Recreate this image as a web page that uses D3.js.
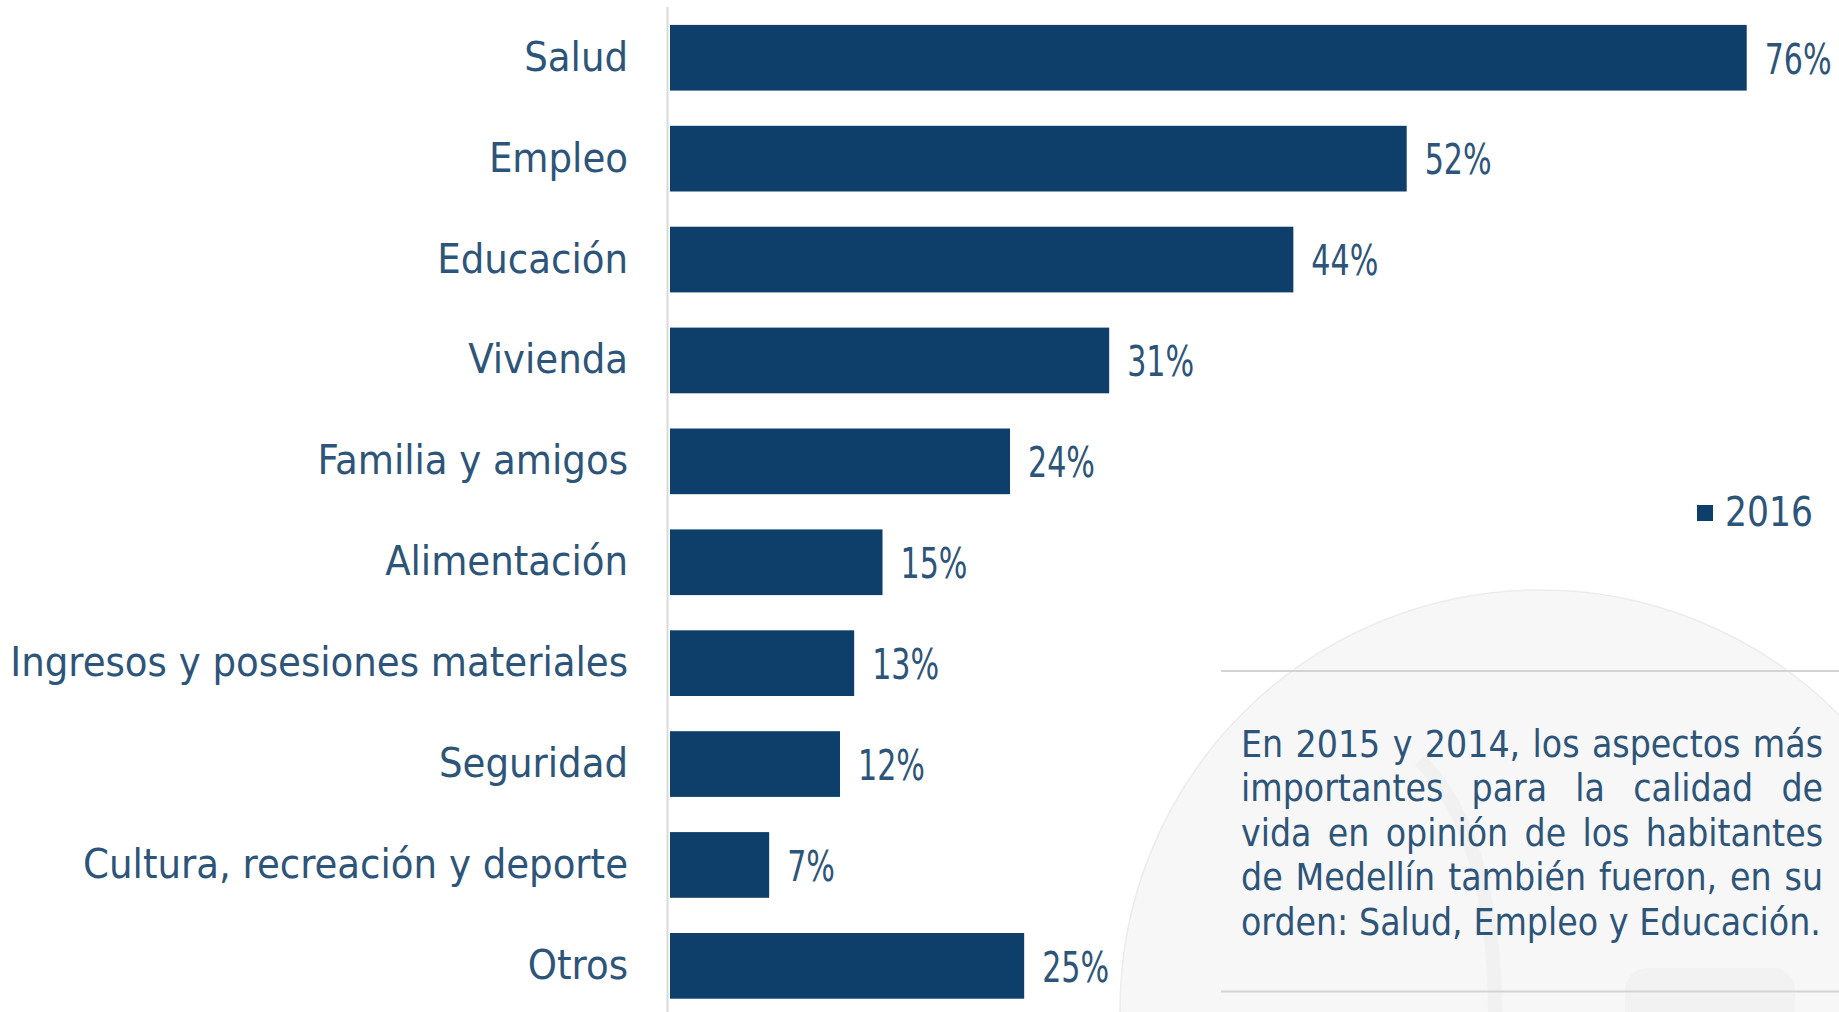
<!DOCTYPE html>
<html>
<head>
<meta charset="utf-8">
<title>Aspectos más importantes para la calidad de vida</title>
<script src="https://d3js.org/d3.v7.min.js"></script>
<style>
  html, body { margin: 0; padding: 0; background: #ffffff; }
  svg { display: block; }
  text { font-family: "DejaVu Sans Condensed", "DejaVu Sans", sans-serif; fill: #2d5479; }
</style>
</head>
<body>
<div id="chart"></div>
<script>
// data
var categories = ["Salud", "Empleo", "Educación", "Vivienda", "Familia y amigos", "Alimentación",
    "Ingresos y posesiones materiales", "Seguridad", "Cultura, recreación y deporte", "Otros"];
var values2016 = [76, 52, 44, 31, 24, 15, 13, 12, 7, 25];
var seriesName = "2016";
var noteLines = [
    "En 2015 y 2014, los aspectos más",
    "importantes para la calidad de",
    "vida en opinión de los habitantes",
    "de Medellín también fueron, en su",
    "orden: Salud, Empleo y Educación."
];

var W = 1839, H = 1012;
var barColor = "#0e3e6a";

var svg = d3.select("#chart").append("svg")
    .attr("width", W)
    .attr("height", H);

// faint watermark circle behind the note
var mark = svg.append("g");
mark.append("circle")
    .attr("cx", 1540).attr("cy", 1010).attr("r", 420)
    .attr("fill", "#f7f7f7")
    .attr("stroke", "#ececec")
    .attr("stroke-width", 1.5);
mark.append("path")
    .attr("d", "M1420,760 C1470,810 1495,900 1495,1012")
    .attr("fill", "none")
    .attr("stroke", "#f1f1f1")
    .attr("stroke-width", 14);
mark.append("rect")
    .attr("x", 1625).attr("y", 968).attr("width", 170).attr("height", 80).attr("rx", 22)
    .attr("fill", "#f2f2f2");

var data = categories.map(function(c, i) { return { cat: c, val: values2016[i] }; });

var x = d3.scaleLinear().domain([0, 76]).range([670, 1746.7]);
var y = d3.scaleBand().domain(categories).range([7.3, 1016.3])
    .paddingInner(0.349).paddingOuter(0.1745);

// vertical axis line
svg.append("line")
    .attr("x1", 667.5).attr("x2", 667.5)
    .attr("y1", 7).attr("y2", H)
    .attr("stroke", "#d9d9d9")
    .attr("stroke-width", 2);

// bars
svg.selectAll(".bar")
    .data(data)
    .enter()
    .append("rect")
    .attr("class", "bar")
    .attr("x", x(0))
    .attr("y", function(d) { return y(d.cat); })
    .attr("width", function(d) { return x(d.val) - x(0); })
    .attr("height", y.bandwidth())
    .attr("fill", barColor);

// category labels, squeezed to the reference width
var catG = svg.append("g");
var cats = catG.selectAll(".cat")
    .data(data)
    .enter()
    .append("text")
    .attr("class", "cat")
    .attr("text-anchor", "end")
    .style("font-size", "41px")
    .text(function(d) { return d.cat; });
var longest = d3.max(cats.nodes(), function(n) { return n.getComputedTextLength(); });
var sxCat = 618 / longest;
cats.attr("transform", function(d) {
    return "translate(628," + (y(d.cat) + y.bandwidth() / 2 + 13) + ") scale(" + sxCat + ",1)";
});

// value labels
var vals = svg.selectAll(".val")
    .data(data)
    .enter()
    .append("text")
    .attr("class", "val")
    .style("font-size", "43px")
    .text(function(d) { return d.val + "%"; });
var w76 = vals.filter(function(d) { return d.val === 76; }).node().getComputedTextLength();
var sxVal = 67 / w76;
vals.attr("transform", function(d) {
    return "translate(" + (x(d.val) + 18) + "," + (y(d.cat) + y.bandwidth() / 2 + 15.8) + ") scale(" + sxVal + ",1)";
});

// legend
var leg = svg.append("g");
leg.append("rect")
    .attr("x", 1697).attr("y", 505)
    .attr("width", 16).attr("height", 16)
    .attr("fill", barColor);
var legText = leg.append("text")
    .style("font-size", "41px")
    .text(seriesName);
var sxLeg = 88 / legText.node().getComputedTextLength();
legText.attr("transform", "translate(1725,526) scale(" + sxLeg + ",1)");

// note box with separator lines
svg.append("line")
    .attr("x1", 1221).attr("x2", W).attr("y1", 671).attr("y2", 671)
    .attr("stroke", "#d3d3d3").attr("stroke-width", 2);
svg.append("line")
    .attr("x1", 1221).attr("x2", W).attr("y1", 991.5).attr("y2", 991.5)
    .attr("stroke", "#d3d3d3").attr("stroke-width", 2);

var noteLeft = 1241, noteRight = 1823, noteTop = 756.5, lineGap = 44.6;
var note = svg.append("g").style("font-size", "37px");
noteLines.forEach(function(line, i) {
    var words = line.split(" ");
    var yy = noteTop + i * lineGap;
    var nodes = words.map(function(w) {
        return note.append("text").attr("y", yy).text(w);
    });
    var widths = nodes.map(function(n) { return n.node().getComputedTextLength(); });
    var space = 37 * 0.29;
    var gap = (i < noteLines.length - 1)
        ? (noteRight - noteLeft - d3.sum(widths)) / (words.length - 1)
        : space;
    var cx = noteLeft;
    nodes.forEach(function(n, j) {
        n.attr("x", cx);
        cx += widths[j] + gap;
    });
});
</script>
</body>
</html>
